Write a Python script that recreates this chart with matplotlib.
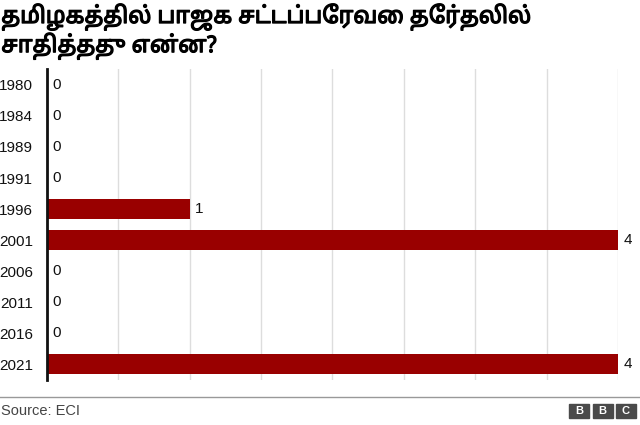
import matplotlib.pyplot as plt
import matplotlib.patheffects as pe
from matplotlib.patches import Rectangle

plt.rcParams['font.family'] = ['Liberation Sans', 'DejaVu Sans']
tamil = ['Noto Sans Tamil', 'Lohit Tamil', 'Anek Tamil', 'DejaVu Sans']

years = ['1980', '1984', '1989', '1991', '1996', '2001', '2006', '2011', '2016', '2021']
seats = [0, 0, 0, 0, 1, 4, 0, 0, 0, 4]
title = 'தமிழகத்தில் பாஜக சட்டப்பேரவை தேர்தலில்\nசாதித்தது என்ன?'
source = 'Source: ECI'

fig = plt.figure(figsize=(6.4, 4.25), dpi=100)
ax = fig.add_axes([0.0734, 0.107, 0.8922, 0.7295])

bars = ax.barh(years, seats, height=0.65, color='#990000', zorder=2)
ax.bar_label(bars, padding=4, fontsize=11, color='#111111')

ax.set_xlim(0, 4)
ax.set_ylim(9.5, -0.5)
ax.set_xticks([0.5 * k for k in range(1, 9)])
ax.tick_params(axis='x', length=0, labelbottom=False)
ax.tick_params(axis='y', length=0, pad=10, labelsize=11, labelcolor='#111111')
ax.grid(axis='x', color='#dddddd', linewidth=1, zorder=0)
for s in ['top', 'right', 'bottom']:
    ax.spines[s].set_visible(False)
ax.spines['left'].set_linewidth(2)
ax.spines['left'].set_color('#111111')
ax.spines['left'].set_zorder(3)

fig.text(0.002, 0.992, title, family=tamil, fontweight='bold', fontsize=16.5,
         va='top', ha='left', linespacing=1.12, color='#000000',
         path_effects=[pe.withStroke(linewidth=0.9, foreground='#000000')])

# footer
fig.add_artist(plt.Line2D([0, 1], [1 - 397 / 425] * 2, color='#999999', linewidth=1))
fig.text(0.002, 1 - 411 / 425, source, fontsize=10.5, color='#444444', va='center', ha='left')
for i, letter in enumerate('BBC'):
    x0 = (569 + i * 23.5) / 640
    fig.add_artist(Rectangle((x0, 1 - 418 / 425), 20 / 640, 14 / 425,
                             transform=fig.transFigure, color='#4a4a4a'))
    fig.text(x0 + 10 / 640, 1 - 411 / 425, letter, fontsize=8, fontweight='bold',
             color='white', ha='center', va='center')

fig.savefig('out.png', dpi=100)
